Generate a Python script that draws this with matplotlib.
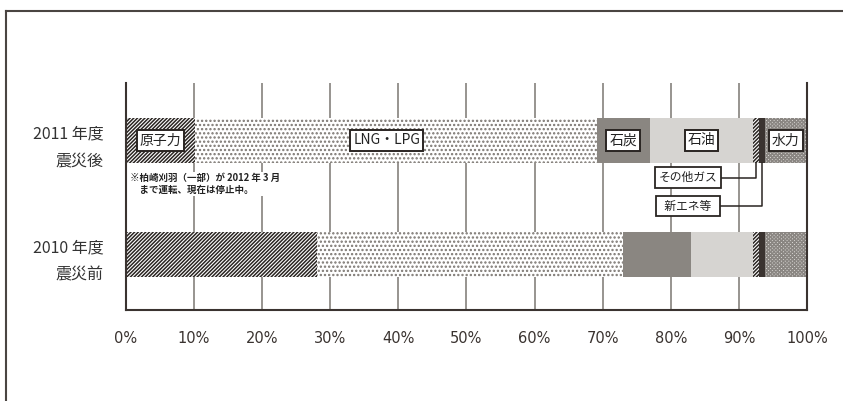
import matplotlib
matplotlib.use("Agg")
import matplotlib.pyplot as plt
from matplotlib.lines import Line2D
import numpy as np

plt.rcParams['font.family'] = ['Noto Sans CJK JP', 'DejaVu Sans']
plt.rcParams['hatch.linewidth'] = 1.1

# ---- data ----
categories = ['2010 年度\n震災前', '2011 年度\n震災後']
sources = ['原子力', 'LNG・LPG', '石炭', '石油', 'その他ガス', '新エネ等', '水力']
share_2010 = [28.0, 45.0, 10.0, 9.1, 0.9, 0.9, 6.1]
share_2011 = [10.1, 59.0, 7.8, 15.2, 0.9, 0.8, 6.2]
xticks = [0, 10, 20, 30, 40, 50, 60, 70, 80, 90, 100]
xtick_labels = ['0%', '10%', '20%', '30%', '40%', '50%', '60%', '70%', '80%', '90%', '100%']
note = '※柏崎刈羽（一部）が 2012 年 3 月\n　まで運転、現在は停止中。'

# ---- styles ----
styles = {
    '原子力':   dict(color='white', edgecolor='#2a2522', hatch='/' * 9),
    'LNG・LPG': dict(color='white', edgecolor='#7a7570', hatch='....'),
    '石炭':     dict(color='#8a8681', edgecolor='#8a8681', hatch=None),
    '石油':     dict(color='#d6d4d1', edgecolor='#d6d4d1', hatch=None),
    'その他ガス': dict(color='white', edgecolor='#2a2522', hatch='/' * 9),
    '新エネ等':  dict(color='#3a3330', edgecolor='#3a3330', hatch=None),
    '水力':     dict(color='#e2e0dd', edgecolor='#8a8682', hatch='x' * 9),
}

fig = plt.figure(figsize=(8.43, 4.01), dpi=100)
ax = fig.add_axes([126 / 843, 1 - 310 / 401, 681 / 843, 227 / 401])

ypos = np.array([0, 1])
bar_h = 0.395
data = np.array([share_2010, share_2011])
left = np.zeros(2)
for i, src in enumerate(sources):
    st = styles[src]
    ax.barh(ypos, data[:, i], left=left, height=bar_h, color=st['color'],
            edgecolor=st['edgecolor'], hatch=st['hatch'], linewidth=0, zorder=2)
    left += data[:, i]

ax.set_xlim(0, 100)
ax.set_ylim(-0.487, 1.504)

# gridlines
for xv in xticks[1:-1]:
    ax.axvline(xv, color='#8f8b87', lw=1.3, zorder=1)

ax.spines['top'].set_visible(False)
for s in ['left', 'right', 'bottom']:
    ax.spines[s].set_color('#3a3330')
    ax.spines[s].set_linewidth(1.5)

ax.set_xticks(xticks)
ax.set_xticklabels(xtick_labels, fontsize=10.5, color='#3a3330',
                   family=['DejaVu Sans'])
ax.tick_params(axis='x', length=0, pad=15)
ax.set_yticks(ypos)
ax.set_yticklabels(categories, fontsize=11.5, color='#333333', linespacing=1.8,
                   ha='right', multialignment='right')
ax.tick_params(axis='y', length=0, pad=16)

# ---- labels on the 2011 bar ----
cum11 = np.concatenate([[0], np.cumsum(share_2011)])
centers11 = (cum11[:-1] + cum11[1:]) / 2
box = dict(boxstyle='square,pad=0.22', fc='white', ec='#2a2522', lw=1.4)
for i in [0, 1, 2, 3, 6]:
    xc = centers11[i]
    if sources[i] == 'LNG・LPG':
        xc -= 1.3
    ax.text(xc, 1.0, sources[i], ha='center', va='center', fontsize=10,
            color='#222222', bbox=box, zorder=5)

# leader labels
bar_bottom = 1 - bar_h / 2
for i, ylab in [(4, 0.675), (5, 0.425)]:
    xc = centers11[i]
    ax.plot([87.2, xc, xc], [ylab, ylab, bar_bottom], color='#2a2522',
            lw=1.1, zorder=4)
    ax.text(82.5, ylab, sources[i] if i == 4 else '  ' + sources[i] + '  ',
            ha='center', va='center', fontsize=8.5, color='#222222',
            bbox=dict(boxstyle='square,pad=0.3', fc='white', ec='#2a2522', lw=1.3),
            zorder=5)

ax.text(0.6, 0.62, note, ha='left', va='center', fontsize=6.8, color='#222222',
        fontweight='bold', linespacing=1.3, zorder=5,
        bbox=dict(boxstyle='square,pad=0.1', fc='white', ec='none'))

# outer frame (top and left lines)
fig.add_artist(Line2D([6 / 843, 6 / 843], [0, 1 - 11 / 401], color='#4a4542', lw=1.5))
fig.add_artist(Line2D([6 / 843, 1], [1 - 11 / 401, 1 - 11 / 401], color='#4a4542', lw=1.5))

fig.savefig('out.png', dpi=100)
